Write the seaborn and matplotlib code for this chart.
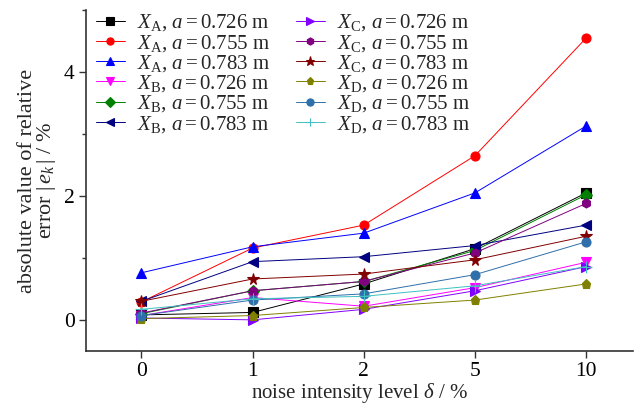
import matplotlib
matplotlib.use("Agg")
import matplotlib.pyplot as plt
from matplotlib.ticker import MultipleLocator
import seaborn as sns

# noise levels (categorical positions on x)
noise_levels = ["0", "1", "2", "5", "10"]

xa_0726 = [0.08, 0.12, 0.58, 1.15, 2.05]
xa_0755 = [0.29, 1.16, 1.53, 2.65, 4.55]
xa_0783 = [0.76, 1.18, 1.40, 2.05, 3.13]
xb_0726 = [0.07, 0.36, 0.22, 0.52, 0.93]
xb_0755 = [0.10, 0.47, 0.62, 1.12, 2.02]
xb_0783 = [0.30, 0.94, 1.02, 1.20, 1.53]
xc_0726 = [0.03, 0.00, 0.17, 0.47, 0.86]
xc_0755 = [0.11, 0.47, 0.62, 1.08, 1.88]
xc_0783 = [0.30, 0.66, 0.74, 0.97, 1.35]
xd_0726 = [0.02, 0.07, 0.20, 0.32, 0.58]
xd_0755 = [0.07, 0.32, 0.42, 0.73, 1.26]
xd_0783 = [0.17, 0.34, 0.38, 0.55, 0.86]

labels = [
    r"$X_{\mathrm{A}}$, $a=0.726$ m", r"$X_{\mathrm{A}}$, $a=0.755$ m", r"$X_{\mathrm{A}}$, $a=0.783$ m",
    r"$X_{\mathrm{B}}$, $a=0.726$ m", r"$X_{\mathrm{B}}$, $a=0.755$ m", r"$X_{\mathrm{B}}$, $a=0.783$ m",
    r"$X_{\mathrm{C}}$, $a=0.726$ m", r"$X_{\mathrm{C}}$, $a=0.755$ m", r"$X_{\mathrm{C}}$, $a=0.783$ m",
    r"$X_{\mathrm{D}}$, $a=0.726$ m", r"$X_{\mathrm{D}}$, $a=0.755$ m", r"$X_{\mathrm{D}}$, $a=0.783$ m",
]
series = [xa_0726, xa_0755, xa_0783, xb_0726, xb_0755, xb_0783,
          xc_0726, xc_0755, xc_0783, xd_0726, xd_0755, xd_0783]
colors = ["#000000", "#FF0000", "#0000FF", "#FF00FF", "#008000", "#000080",
          "#8000FF", "#800080", "#800000", "#808000", "#2F6FAA", "#40C0C0"]
marker_list = ["s", "o", "^", "v", "D", "<", ">", "h", "*", "p", "o", "+"]

sns.set_theme(style="ticks")
plt.rcParams["font.family"] = ["Liberation Serif", "DejaVu Serif"]
plt.rcParams["mathtext.fontset"] = "custom"
plt.rcParams["mathtext.rm"] = "Liberation Serif"
plt.rcParams["mathtext.it"] = "Liberation Serif:italic"

fig = plt.figure(figsize=(6.36, 4.07), dpi=100)
ax = fig.add_axes([0.135, 0.138, 0.86, 0.837])

positions = list(range(len(noise_levels)))
for lab, vals, col, mk in zip(labels, series, colors, marker_list):
    ms = 8.5 if mk == "*" else (8 if mk == "+" else 6.5)
    sns.lineplot(x=positions, y=vals, color=col, marker=mk, markersize=ms,
                 markeredgecolor=col, markeredgewidth=0.8, linewidth=0.7,
                 label=lab, ax=ax)

ax.set_xlim(-0.5, 4.42)
ax.set_ylim(-0.5, 5.0)
ax.set_xticks(positions)
ax.set_xticklabels(noise_levels)
ax.yaxis.set_major_locator(MultipleLocator(2))
ax.yaxis.set_minor_locator(MultipleLocator(1))
ax.tick_params(axis="both", which="major", direction="out", length=5, width=1,
               labelsize=15.5, colors="#333333", labelcolor="black", pad=3)
ax.tick_params(axis="y", which="minor", direction="out", length=3, width=1, colors="#333333")
sns.despine(ax=ax)
for sp in ("left", "bottom"):
    ax.spines[sp].set_linewidth(1.2)
    ax.spines[sp].set_color("#333333")

ax.set_xlabel(r"noise intensity level $\delta$ / %", fontsize=15, labelpad=0)
ax.set_ylabel("absolute value of relative\n" + r"error $|\,e_k\,|$ / %", fontsize=16,
              linespacing=0.9, labelpad=4)

handles, _ = ax.get_legend_handles_labels()
ax.legend(handles, labels, ncol=2, loc="upper left", bbox_to_anchor=(-0.005, 1.03),
          frameon=False, fontsize=15, handlelength=1.4, handletextpad=0.6,
          columnspacing=1.2, labelspacing=-0.03, borderaxespad=0.2, markerscale=0.8)

fig.savefig("out.png", dpi=100)
